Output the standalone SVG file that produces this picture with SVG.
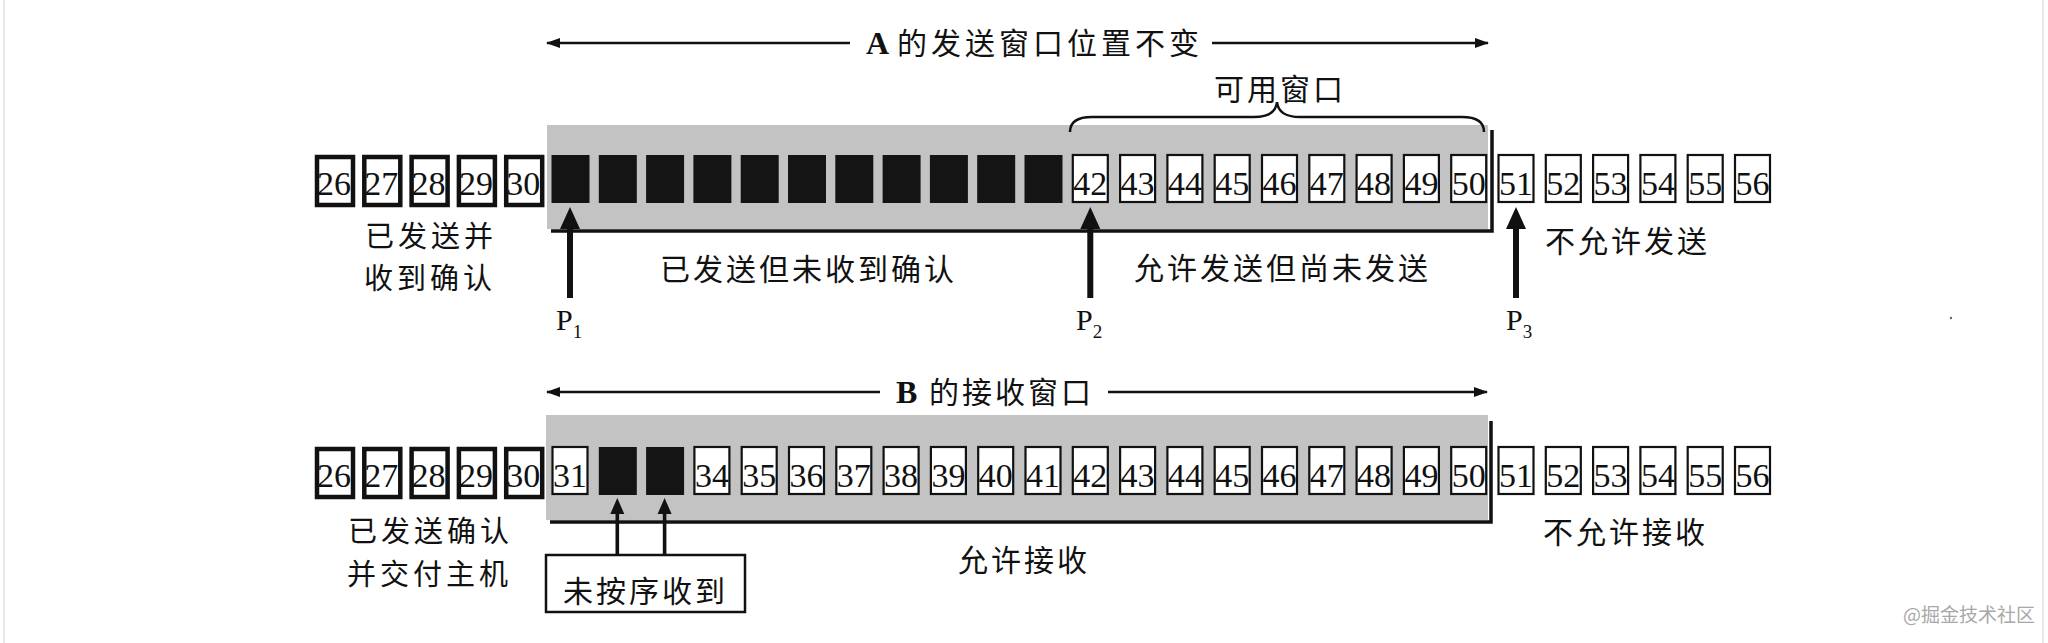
<svg xmlns="http://www.w3.org/2000/svg" width="2048" height="643" viewBox="0 0 2048 643">
<style>
.tk{fill:#fff;stroke:#111;stroke-width:4.5}
.tn{fill:#fff;stroke:#111;stroke-width:2.2}
.bk{fill:#141414}
.num{font-family:"Liberation Serif","Times New Roman",serif;font-size:34px;text-anchor:middle;fill:#111}
.cjk{font-family:"Noto Sans CJK SC","Liberation Sans",sans-serif;font-size:30px;letter-spacing:3px;fill:#111}
.cjk2{font-family:"Noto Sans CJK SC","Liberation Sans",sans-serif;font-size:29px;letter-spacing:4px;fill:#111}
.ser{font-family:"Liberation Serif","Times New Roman",serif;fill:#111}
.band{fill:#c3c3c3}
.shadow{fill:none;stroke:#111;stroke-width:3.5}
.ln{stroke:#111;stroke-width:2.6;fill:none}
.solid{fill:#111;stroke:none}
.brace{fill:none;stroke:#111;stroke-width:2.5}
</style>
<defs>
<marker id="ah" viewBox="0 0 14 10" refX="13" refY="5" markerWidth="14" markerHeight="10" markerUnits="userSpaceOnUse" orient="auto">
<path d="M0,0 L14,5 L0,10 Z" fill="#111"/>
</marker>
</defs>
<rect width="2048" height="643" fill="#fff"/>
<line x1="4" y1="0" x2="4" y2="643" stroke="#e2e2e2" stroke-width="1.5"/>
<line x1="2043" y1="0" x2="2043" y2="643" stroke="#e2e2e2" stroke-width="1.5"/>
<circle cx="1951" cy="318" r="1.2" fill="#666"/>

<g id="bandA">
<rect class="band" x="547" y="125" width="941" height="104"/>
<path class="shadow" d="M551,231 H1492 V130"/>
</g>
<g id="bandB">
<rect class="band" x="546" y="415" width="942" height="105"/>
<path class="shadow" d="M550,522 H1491 V421"/>
</g>

<g id="rowA">
<g id="a26" transform="translate(315,0)"><rect class="tk" x="2" y="157" width="36" height="48"/><text class="num" x="19" y="195">26</text></g>
<g id="a27" transform="translate(362.3,0)"><rect class="tk" x="2" y="157" width="36" height="48"/><text class="num" x="19" y="195">27</text></g>
<g id="a28" transform="translate(409.6,0)"><rect class="tk" x="2" y="157" width="36" height="48"/><text class="num" x="19" y="195">28</text></g>
<g id="a29" transform="translate(456.9,0)"><rect class="tk" x="2" y="157" width="36" height="48"/><text class="num" x="19" y="195">29</text></g>
<g id="a30" transform="translate(504.2,0)"><rect class="tk" x="2" y="157" width="36" height="48"/><text class="num" x="19" y="195">30</text></g>
<g id="a31" transform="translate(551.5,0)"><rect class="bk" x="0" y="155" width="38" height="48"/></g>
<g id="a32" transform="translate(598.8,0)"><rect class="bk" x="0" y="155" width="38" height="48"/></g>
<g id="a33" transform="translate(646.1,0)"><rect class="bk" x="0" y="155" width="38" height="48"/></g>
<g id="a34" transform="translate(693.4,0)"><rect class="bk" x="0" y="155" width="38" height="48"/></g>
<g id="a35" transform="translate(740.7,0)"><rect class="bk" x="0" y="155" width="38" height="48"/></g>
<g id="a36" transform="translate(788,0)"><rect class="bk" x="0" y="155" width="38" height="48"/></g>
<g id="a37" transform="translate(835.3,0)"><rect class="bk" x="0" y="155" width="38" height="48"/></g>
<g id="a38" transform="translate(882.6,0)"><rect class="bk" x="0" y="155" width="38" height="48"/></g>
<g id="a39" transform="translate(929.9,0)"><rect class="bk" x="0" y="155" width="38" height="48"/></g>
<g id="a40" transform="translate(977.2,0)"><rect class="bk" x="0" y="155" width="38" height="48"/></g>
<g id="a41" transform="translate(1024.5,0)"><rect class="bk" x="0" y="155" width="38" height="48"/></g>
<g id="a42" transform="translate(1071.8,0)"><rect class="tn" x="1" y="155" width="35" height="47"/><text class="num" x="18.5" y="195">42</text></g>
<g id="a43" transform="translate(1119.1,0)"><rect class="tn" x="1" y="155" width="35" height="47"/><text class="num" x="18.5" y="195">43</text></g>
<g id="a44" transform="translate(1166.4,0)"><rect class="tn" x="1" y="155" width="35" height="47"/><text class="num" x="18.5" y="195">44</text></g>
<g id="a45" transform="translate(1213.7,0)"><rect class="tn" x="1" y="155" width="35" height="47"/><text class="num" x="18.5" y="195">45</text></g>
<g id="a46" transform="translate(1261,0)"><rect class="tn" x="1" y="155" width="35" height="47"/><text class="num" x="18.5" y="195">46</text></g>
<g id="a47" transform="translate(1308.3,0)"><rect class="tn" x="1" y="155" width="35" height="47"/><text class="num" x="18.5" y="195">47</text></g>
<g id="a48" transform="translate(1355.6,0)"><rect class="tn" x="1" y="155" width="35" height="47"/><text class="num" x="18.5" y="195">48</text></g>
<g id="a49" transform="translate(1402.9,0)"><rect class="tn" x="1" y="155" width="35" height="47"/><text class="num" x="18.5" y="195">49</text></g>
<g id="a50" transform="translate(1450.2,0)"><rect class="tn" x="1" y="155" width="35" height="47"/><text class="num" x="18.5" y="195">50</text></g>
<g id="a51" transform="translate(1497.5,0)"><rect class="tn" x="1" y="155" width="35" height="47"/><text class="num" x="18.5" y="195">51</text></g>
<g id="a52" transform="translate(1544.8,0)"><rect class="tn" x="1" y="155" width="35" height="47"/><text class="num" x="18.5" y="195">52</text></g>
<g id="a53" transform="translate(1592.1,0)"><rect class="tn" x="1" y="155" width="35" height="47"/><text class="num" x="18.5" y="195">53</text></g>
<g id="a54" transform="translate(1639.4,0)"><rect class="tn" x="1" y="155" width="35" height="47"/><text class="num" x="18.5" y="195">54</text></g>
<g id="a55" transform="translate(1686.7,0)"><rect class="tn" x="1" y="155" width="35" height="47"/><text class="num" x="18.5" y="195">55</text></g>
<g id="a56" transform="translate(1734,0)"><rect class="tn" x="1" y="155" width="35" height="47"/><text class="num" x="18.5" y="195">56</text></g>
</g>

<g id="rowB" transform="translate(0,292)">
<g id="b26" transform="translate(315,0)"><rect class="tk" x="2" y="157" width="36" height="48"/><text class="num" x="19" y="195">26</text></g>
<g id="b27" transform="translate(362.3,0)"><rect class="tk" x="2" y="157" width="36" height="48"/><text class="num" x="19" y="195">27</text></g>
<g id="b28" transform="translate(409.6,0)"><rect class="tk" x="2" y="157" width="36" height="48"/><text class="num" x="19" y="195">28</text></g>
<g id="b29" transform="translate(456.9,0)"><rect class="tk" x="2" y="157" width="36" height="48"/><text class="num" x="19" y="195">29</text></g>
<g id="b30" transform="translate(504.2,0)"><rect class="tk" x="2" y="157" width="36" height="48"/><text class="num" x="19" y="195">30</text></g>
<g id="b31" transform="translate(551.5,0)"><rect class="tn" x="1" y="155" width="35" height="47"/><text class="num" x="18.5" y="195">31</text></g>
<g id="b32" transform="translate(598.8,0)"><rect class="bk" x="0" y="155" width="38" height="48"/></g>
<g id="b33" transform="translate(646.1,0)"><rect class="bk" x="0" y="155" width="38" height="48"/></g>
<g id="b34" transform="translate(693.4,0)"><rect class="tn" x="1" y="155" width="35" height="47"/><text class="num" x="18.5" y="195">34</text></g>
<g id="b35" transform="translate(740.7,0)"><rect class="tn" x="1" y="155" width="35" height="47"/><text class="num" x="18.5" y="195">35</text></g>
<g id="b36" transform="translate(788,0)"><rect class="tn" x="1" y="155" width="35" height="47"/><text class="num" x="18.5" y="195">36</text></g>
<g id="b37" transform="translate(835.3,0)"><rect class="tn" x="1" y="155" width="35" height="47"/><text class="num" x="18.5" y="195">37</text></g>
<g id="b38" transform="translate(882.6,0)"><rect class="tn" x="1" y="155" width="35" height="47"/><text class="num" x="18.5" y="195">38</text></g>
<g id="b39" transform="translate(929.9,0)"><rect class="tn" x="1" y="155" width="35" height="47"/><text class="num" x="18.5" y="195">39</text></g>
<g id="b40" transform="translate(977.2,0)"><rect class="tn" x="1" y="155" width="35" height="47"/><text class="num" x="18.5" y="195">40</text></g>
<g id="b41" transform="translate(1024.5,0)"><rect class="tn" x="1" y="155" width="35" height="47"/><text class="num" x="18.5" y="195">41</text></g>
<g id="b42" transform="translate(1071.8,0)"><rect class="tn" x="1" y="155" width="35" height="47"/><text class="num" x="18.5" y="195">42</text></g>
<g id="b43" transform="translate(1119.1,0)"><rect class="tn" x="1" y="155" width="35" height="47"/><text class="num" x="18.5" y="195">43</text></g>
<g id="b44" transform="translate(1166.4,0)"><rect class="tn" x="1" y="155" width="35" height="47"/><text class="num" x="18.5" y="195">44</text></g>
<g id="b45" transform="translate(1213.7,0)"><rect class="tn" x="1" y="155" width="35" height="47"/><text class="num" x="18.5" y="195">45</text></g>
<g id="b46" transform="translate(1261,0)"><rect class="tn" x="1" y="155" width="35" height="47"/><text class="num" x="18.5" y="195">46</text></g>
<g id="b47" transform="translate(1308.3,0)"><rect class="tn" x="1" y="155" width="35" height="47"/><text class="num" x="18.5" y="195">47</text></g>
<g id="b48" transform="translate(1355.6,0)"><rect class="tn" x="1" y="155" width="35" height="47"/><text class="num" x="18.5" y="195">48</text></g>
<g id="b49" transform="translate(1402.9,0)"><rect class="tn" x="1" y="155" width="35" height="47"/><text class="num" x="18.5" y="195">49</text></g>
<g id="b50" transform="translate(1450.2,0)"><rect class="tn" x="1" y="155" width="35" height="47"/><text class="num" x="18.5" y="195">50</text></g>
<g id="b51" transform="translate(1497.5,0)"><rect class="tn" x="1" y="155" width="35" height="47"/><text class="num" x="18.5" y="195">51</text></g>
<g id="b52" transform="translate(1544.8,0)"><rect class="tn" x="1" y="155" width="35" height="47"/><text class="num" x="18.5" y="195">52</text></g>
<g id="b53" transform="translate(1592.1,0)"><rect class="tn" x="1" y="155" width="35" height="47"/><text class="num" x="18.5" y="195">53</text></g>
<g id="b54" transform="translate(1639.4,0)"><rect class="tn" x="1" y="155" width="35" height="47"/><text class="num" x="18.5" y="195">54</text></g>
<g id="b55" transform="translate(1686.7,0)"><rect class="tn" x="1" y="155" width="35" height="47"/><text class="num" x="18.5" y="195">55</text></g>
<g id="b56" transform="translate(1734,0)"><rect class="tn" x="1" y="155" width="35" height="47"/><text class="num" x="18.5" y="195">56</text></g>
</g>

<g id="outOfOrderBox">
<rect x="546" y="555" width="199" height="57" fill="#fff" stroke="#111" stroke-width="2.5"/>
<text class="cjk" x="563" y="601.5">未按序收到</text>
</g>

<g id="connectors">
<line class="ln" x1="850" y1="43" x2="547" y2="43" marker-end="url(#ah)"/>
<line class="ln" x1="1212" y1="43" x2="1488" y2="43" marker-end="url(#ah)"/>
<line class="ln" x1="880" y1="392" x2="547" y2="392" marker-end="url(#ah)"/>
<line class="ln" x1="1108" y1="392" x2="1487" y2="392" marker-end="url(#ah)"/>
<path class="brace" d="M1070,132 C1070,122 1078,117 1092,117 L1254,117 C1268,117 1276,112 1277,102 C1278,112 1286,117 1300,117 L1462,117 C1476,117 1484,122 1484,132"/>
<path class="solid" d="M567,298 V229 H560 L570,207 L580,229 H573 V298 Z"/>
<path class="solid" d="M1087.3,298 V229 H1080.3 L1090.3,207 L1100.3,229 H1093.3 V298 Z"/>
<path class="solid" d="M1513,298 V229 H1506 L1516,207 L1526,229 H1519 V298 Z"/>
<path class="solid" d="M615.5,555 V514 H610.3 L617.3,498 L624.3,514 H619.1 V555 Z"/>
<path class="solid" d="M662.8,555 V514 H657.6 L664.6,498 L671.6,514 H666.4 V555 Z"/>
</g>

<g id="labels">
<text y="54"><tspan class="ser" x="866" font-size="32" font-weight="bold">A</tspan><tspan class="cjk" x="897" style="letter-spacing:4px">的发送窗口位置不变</tspan></text>
<text class="cjk" x="1214" y="99.5">可用窗口</text>
<text class="cjk2" x="365" y="247">已发送并</text>
<text class="cjk2" x="364" y="289">收到确认</text>
<text class="cjk" x="660" y="279.5">已发送但未收到确认</text>
<text class="cjk" x="1134" y="278.5">允许发送但尚未发送</text>
<text class="cjk" x="1545" y="251.5">不允许发送</text>
<text class="ser" x="556" y="330" font-size="30">P<tspan font-size="19" dy="8">1</tspan></text>
<text class="ser" x="1076" y="330" font-size="30">P<tspan font-size="19" dy="8">2</tspan></text>
<text class="ser" x="1506" y="330" font-size="30">P<tspan font-size="19" dy="8">3</tspan></text>
<text y="403"><tspan class="ser" x="896" font-size="32" font-weight="bold">B</tspan><tspan class="cjk" x="929">的接收窗口</tspan></text>
<text class="cjk2" x="348" y="541.5">已发送确认</text>
<text class="cjk2" x="347" y="584.5">并交付主机</text>
<text class="cjk" x="958" y="570.5">允许接收</text>
<text class="cjk" x="1543" y="542.5">不允许接收</text>
<text x="1903" y="622" font-family="Noto Sans CJK SC, Liberation Sans, sans-serif" font-size="19" fill="#a8a8a8">@掘金技术社区</text>
</g>
</svg>
